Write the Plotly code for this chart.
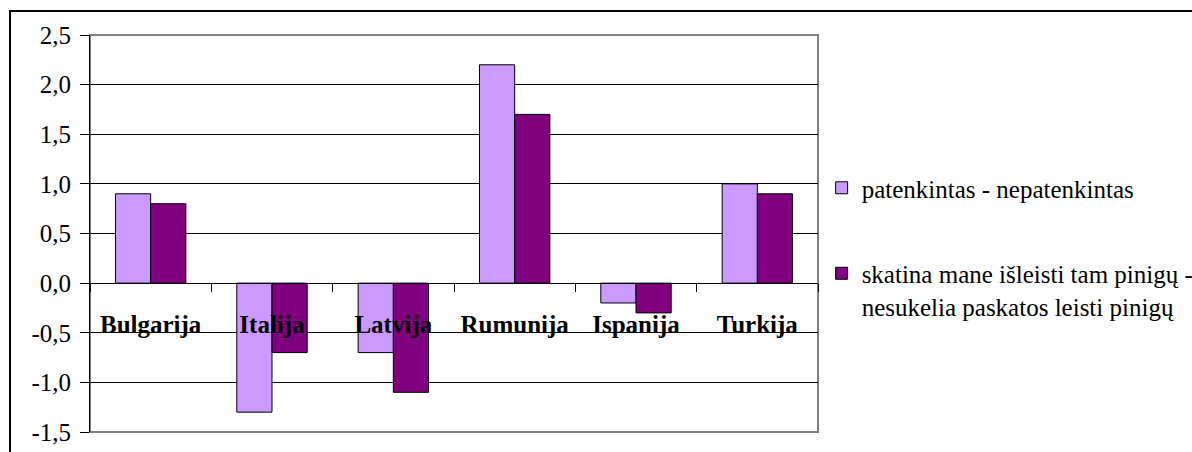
import plotly.graph_objects as go

categories = ["Bulgarija", "Italija", "Latvija", "Rumunija", "Ispanija", "Turkija"]
series_names = [
    "patenkintas - nepatenkintas",
    "skatina mane išleisti tam pinigų -<br>nesukelia paskatos leisti pinigų",
]
satisfied = [0.9, -1.3, -0.7, 2.2, -0.2, 1.0]
spending = [0.8, -0.7, -1.1, 1.7, -0.3, 0.9]
y_ticks = [-1.5, -1.0, -0.5, 0.0, 0.5, 1.0, 1.5, 2.0, 2.5]
y_tick_labels = ["-1,5", "-1,0", "-0,5", "0,0", "0,5", "1,0", "1,5", "2,0", "2,5"]

FONT = "Liberation Serif"

fig = go.Figure()
fig.add_trace(go.Bar(x=categories, y=satisfied, name=series_names[0],
                     legendgroup="a",
                     marker=dict(color="#CC99FF", line=dict(color="#000000", width=1))))
fig.add_trace(go.Bar(x=categories, y=spending, name=series_names[1],
                     legendgroup="b",
                     marker=dict(color="#800080", line=dict(color="#000000", width=1))))

fig.update_layout(
    width=1192, height=452,
    margin=dict(l=90, r=374, t=35, b=20, autoexpand=False),
    paper_bgcolor="white", plot_bgcolor="white",
    barmode="group", bargap=0.42, bargroupgap=0,
    font=dict(family=FONT, color="#000000", size=25),
    showlegend=True,
    legend=dict(x=1.005, xanchor="left", y=0.6725, yanchor="top",
                font=dict(family=FONT, size=25, color="#000000"),
                valign="top", tracegroupgap=50, traceorder="grouped",
                bgcolor="rgba(0,0,0,0)"),
    xaxis=dict(type="category", anchor="free", position=0.375, automargin=False,
               showline=True, linecolor="#000000", linewidth=1,
               ticks="outside", ticklen=8, tickcolor="#000000", tickwidth=1,
               tickson="boundaries", showgrid=False,
               tickfont=dict(family=FONT, size=25, color="#000000", weight="bold"),
               ticklabelstandoff=19),
    yaxis=dict(range=[-1.5, 2.5], tickvals=y_ticks, ticktext=y_tick_labels,
               automargin=False,
               showgrid=True, gridcolor="#000000", gridwidth=1,
               zeroline=True, zerolinecolor="#000000", zerolinewidth=1,
               showline=True, linecolor="#000000", linewidth=1,
               ticks="outside", ticklen=9, tickcolor="#000000",
               tickfont=dict(family=FONT, size=25, color="#000000"),
               ticklabelstandoff=4),
)

# plot-area border (gray right/bottom)
fig.add_shape(type="rect", xref="paper", yref="paper", x0=0, x1=1, y0=0, y1=1,
              line=dict(color="#808080", width=2), layer="below")
# outer chart frame: left and top black lines
fig.add_shape(type="line", xref="paper", yref="paper", xsizemode="pixel", ysizemode="pixel",
              xanchor=0, yanchor=1, x0=-80, x1=-80, y0=24, y1=-450,
              line=dict(color="#000000", width=2))
fig.add_shape(type="line", xref="paper", yref="paper", xsizemode="pixel", ysizemode="pixel",
              xanchor=0, yanchor=1, x0=-81, x1=1200, y0=24, y1=24,
              line=dict(color="#000000", width=2))

fig.write_html("out.html")
